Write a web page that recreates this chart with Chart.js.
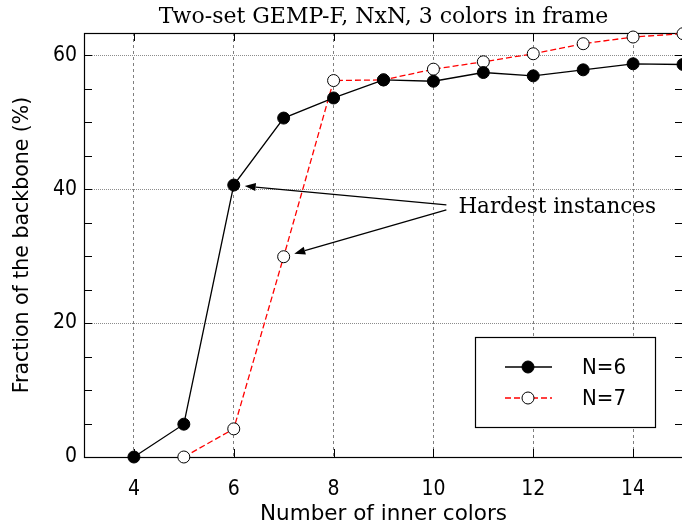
<!DOCTYPE html>
<html>
<head>
<meta charset="utf-8">
<script src="https://cdn.jsdelivr.net/npm/chart.js@4/dist/chart.umd.min.js"></script>
<style>
  html, body { margin: 0; padding: 0; background: #fff; overflow: hidden; width: 682px; height: 528px; }
  #wrap { width: 690px; height: 528px; }
  canvas { display: block; }
</style>
</head>
<body>
<div id="wrap"><canvas id="c" width="690" height="528"></canvas></div>
<script>
// Number of inner colors for each series
const colorsN6 = [4, 5, 6, 7, 8, 9, 10, 11, 12, 13, 14, 15];
const colorsN7 = [5, 6, 7, 8, 9, 10, 11, 12, 13, 14, 15];
// Fraction of the backbone (%)
const backboneN6 = [0, 4.9, 40.6, 50.6, 53.6, 56.3, 56.1, 57.4, 56.9, 57.8, 58.7, 58.6];
const backboneN7 = [0, 4.2, 29.9, 56.2, 56.3, 57.9, 59.0, 60.2, 61.7, 62.7, 63.2];
// Axis ticks
const xTickValues = [4, 6, 8, 10, 12, 14];
const yTickValues = [0, 5, 10, 15, 20, 25, 30, 35, 40, 45, 50, 55, 60];
const yLabelValues = [0, 20, 40, 60];
// Annotated points (the hardest instances)
const hardest = [{ series: 0, x: 6 }, { series: 1, x: 7 }];

const SANS_NARROW = '"DejaVu Sans Condensed", "DejaVu Sans", sans-serif';
const SANS = '"DejaVu Sans", sans-serif';
const SERIF = '"DejaVu Serif", serif';

const toPoints = (xs, ys) => xs.map((x, i) => ({ x: x, y: ys[i] }));

const framePlugin = {
  id: 'frame',
  beforeDatasetsDraw(chart) {
    const { ctx, chartArea: a, scales } = chart;
    const xs = scales.x, ys = scales.y;
    ctx.save();
    ctx.strokeStyle = '#000';
    ctx.lineWidth = 1;
    ctx.setLineDash([]);
    ctx.beginPath();
    // inward ticks on all four sides
    xTickValues.forEach(v => {
      const px = Math.round(xs.getPixelForValue(v)) + 0.5;
      ctx.moveTo(px, a.bottom); ctx.lineTo(px, a.bottom - 8);
      ctx.moveTo(px, a.top); ctx.lineTo(px, a.top + 8);
    });
    yTickValues.forEach(v => {
      const py = Math.round(ys.getPixelForValue(v)) + 0.5;
      ctx.moveTo(a.left, py); ctx.lineTo(a.left + 8, py);
      ctx.moveTo(a.right, py); ctx.lineTo(a.right - 8, py);
    });
    ctx.stroke();
    ctx.lineWidth = 1.2;
    ctx.strokeRect(Math.round(a.left) + 0.5, Math.round(a.top) + 0.5,
                   Math.round(a.right - a.left), Math.round(a.bottom - a.top));
    ctx.restore();
  },
  afterDraw(chart) {
    const { ctx, chartArea: a, scales } = chart;
    const xs = scales.x, ys = scales.y;
    ctx.save();

    // title
    ctx.fillStyle = '#000';
    ctx.font = '22px ' + SERIF;
    ctx.textAlign = 'center';
    ctx.textBaseline = 'middle';
    ctx.fillText('Two-set GEMP-F, NxN, 3 colors in frame', (a.left + a.right) / 2, 17);

    // annotation text and arrows
    const tx = xs.getPixelForValue(10.5);
    const ty = ys.getPixelForValue(37.2);
    ctx.font = '21.5px ' + SERIF;
    ctx.textAlign = 'left';
    ctx.fillText('Hardest instances', tx, ty);
    const tails = [[tx - 12, ty - 3], [tx - 12, ty + 2]];
    hardest.forEach((h, k) => {
      const ds = chart.data.datasets[h.series];
      const pt = ds.data.find(p => p.x === h.x);
      const px = xs.getPixelForValue(pt.x), py = ys.getPixelForValue(pt.y);
      const [sx, sy] = tails[k];
      const dx = sx - px, dy = sy - py, len = Math.hypot(dx, dy);
      const ux = dx / len, uy = dy / len;
      const tipX = px + ux * 11, tipY = py + uy * 11;
      const headL = 11, headW = 4;
      const bx = tipX + ux * headL, by = tipY + uy * headL;
      ctx.strokeStyle = '#000';
      ctx.lineWidth = 1.2;
      ctx.beginPath();
      ctx.moveTo(sx, sy); ctx.lineTo(bx, by);
      ctx.stroke();
      ctx.fillStyle = '#000';
      ctx.beginPath();
      ctx.moveTo(tipX, tipY);
      ctx.lineTo(bx - uy * headW, by + ux * headW);
      ctx.lineTo(bx + uy * headW, by - ux * headW);
      ctx.closePath();
      ctx.fill();
    });

    // legend box
    const lx = 475, ly = 337, lw = 180, lh = 90;
    ctx.fillStyle = '#fff';
    ctx.fillRect(lx, ly, lw, lh);
    ctx.strokeStyle = '#000';
    ctx.lineWidth = 1.2;
    ctx.setLineDash([]);
    ctx.strokeRect(lx + 0.5, ly + 0.5, lw, lh);
    chart.data.datasets.forEach((ds, i) => {
      const yy = ly + 30 + i * 31;
      ctx.strokeStyle = ds.borderColor;
      ctx.lineWidth = ds.borderWidth;
      ctx.setLineDash(ds.borderDash || []);
      ctx.beginPath();
      ctx.moveTo(lx + 30, yy); ctx.lineTo(lx + 77, yy);
      ctx.stroke();
      ctx.setLineDash([]);
      ctx.beginPath();
      ctx.arc(lx + 53, yy, ds.pointRadius, 0, Math.PI * 2);
      ctx.fillStyle = ds.pointBackgroundColor;
      ctx.fill();
      ctx.strokeStyle = ds.pointBorderColor;
      ctx.lineWidth = 1;
      ctx.stroke();
      ctx.fillStyle = '#000';
      ctx.font = '22px ' + SANS_NARROW;
      ctx.textAlign = 'left';
      ctx.textBaseline = 'middle';
      ctx.fillText(ds.label, lx + 107, yy + 1);
    });
    ctx.restore();
  }
};

new Chart(document.getElementById('c'), {
  type: 'line',
  data: {
    datasets: [
      {
        label: 'N=6',
        data: toPoints(colorsN6, backboneN6),
        borderColor: '#000',
        borderWidth: 1.3,
        pointRadius: 6,
        pointBackgroundColor: '#000',
        pointBorderColor: '#000',
        pointBorderWidth: 1,
        clip: false
      },
      {
        label: 'N=7',
        data: toPoints(colorsN7, backboneN7),
        borderColor: '#ff0000',
        borderWidth: 1.3,
        borderDash: [6, 3],
        pointRadius: 6,
        pointBackgroundColor: '#fff',
        pointBorderColor: '#000',
        pointBorderWidth: 1,
        clip: false
      }
    ]
  },
  options: {
    responsive: false,
    animation: false,
    devicePixelRatio: 1,
    layout: { padding: { top: 33, right: 6, left: 0, bottom: 0 } },
    plugins: { legend: { display: false }, tooltip: { enabled: false } },
    scales: {
      x: {
        type: 'linear',
        min: 3,
        max: 15,
        afterBuildTicks: axis => { axis.ticks = xTickValues.map(v => ({ value: v })); },
        afterFit: axis => { axis.height = 71; },
        ticks: {
          color: '#000',
          font: { family: SANS_NARROW, size: 21 },
          padding: 20,
          maxRotation: 0,
          callback: v => String(v)
        },
        grid: {
          color: '#7f7f7f',
          lineWidth: 1,
          drawTicks: false
        },
        border: { display: false, dash: [3, 3] },
        title: {
          display: true,
          text: 'Number of inner colors',
          color: '#000',
          font: { family: SANS, size: 21.5 },
          padding: { top: 0, bottom: 1 }
        }
      },
      y: {
        type: 'linear',
        min: 0,
        max: 63.3,
        afterBuildTicks: axis => { axis.ticks = yTickValues.map(v => ({ value: v })); },
        afterFit: axis => { axis.width = 84; },
        ticks: {
          color: '#000',
          font: { family: SANS_NARROW, size: 21 },
          padding: 7,
          callback: v => (yLabelValues.includes(v) ? String(v) : '')
        },
        grid: {
          color: ctx => (ctx.tick && yLabelValues.includes(ctx.tick.value) && ctx.tick.value !== 0)
            ? '#8c8c8c' : 'rgba(0,0,0,0)',
          lineWidth: 1,
          drawTicks: false
        },
        border: { display: false, dash: [1, 1] },
        title: {
          display: true,
          text: 'Fraction of the backbone (%)',
          color: '#000',
          font: { family: SANS, size: 20.5 },
          padding: { top: 10, bottom: 0 }
        }
      }
    }
  },
  plugins: [framePlugin]
});
</script>
</body>
</html>
